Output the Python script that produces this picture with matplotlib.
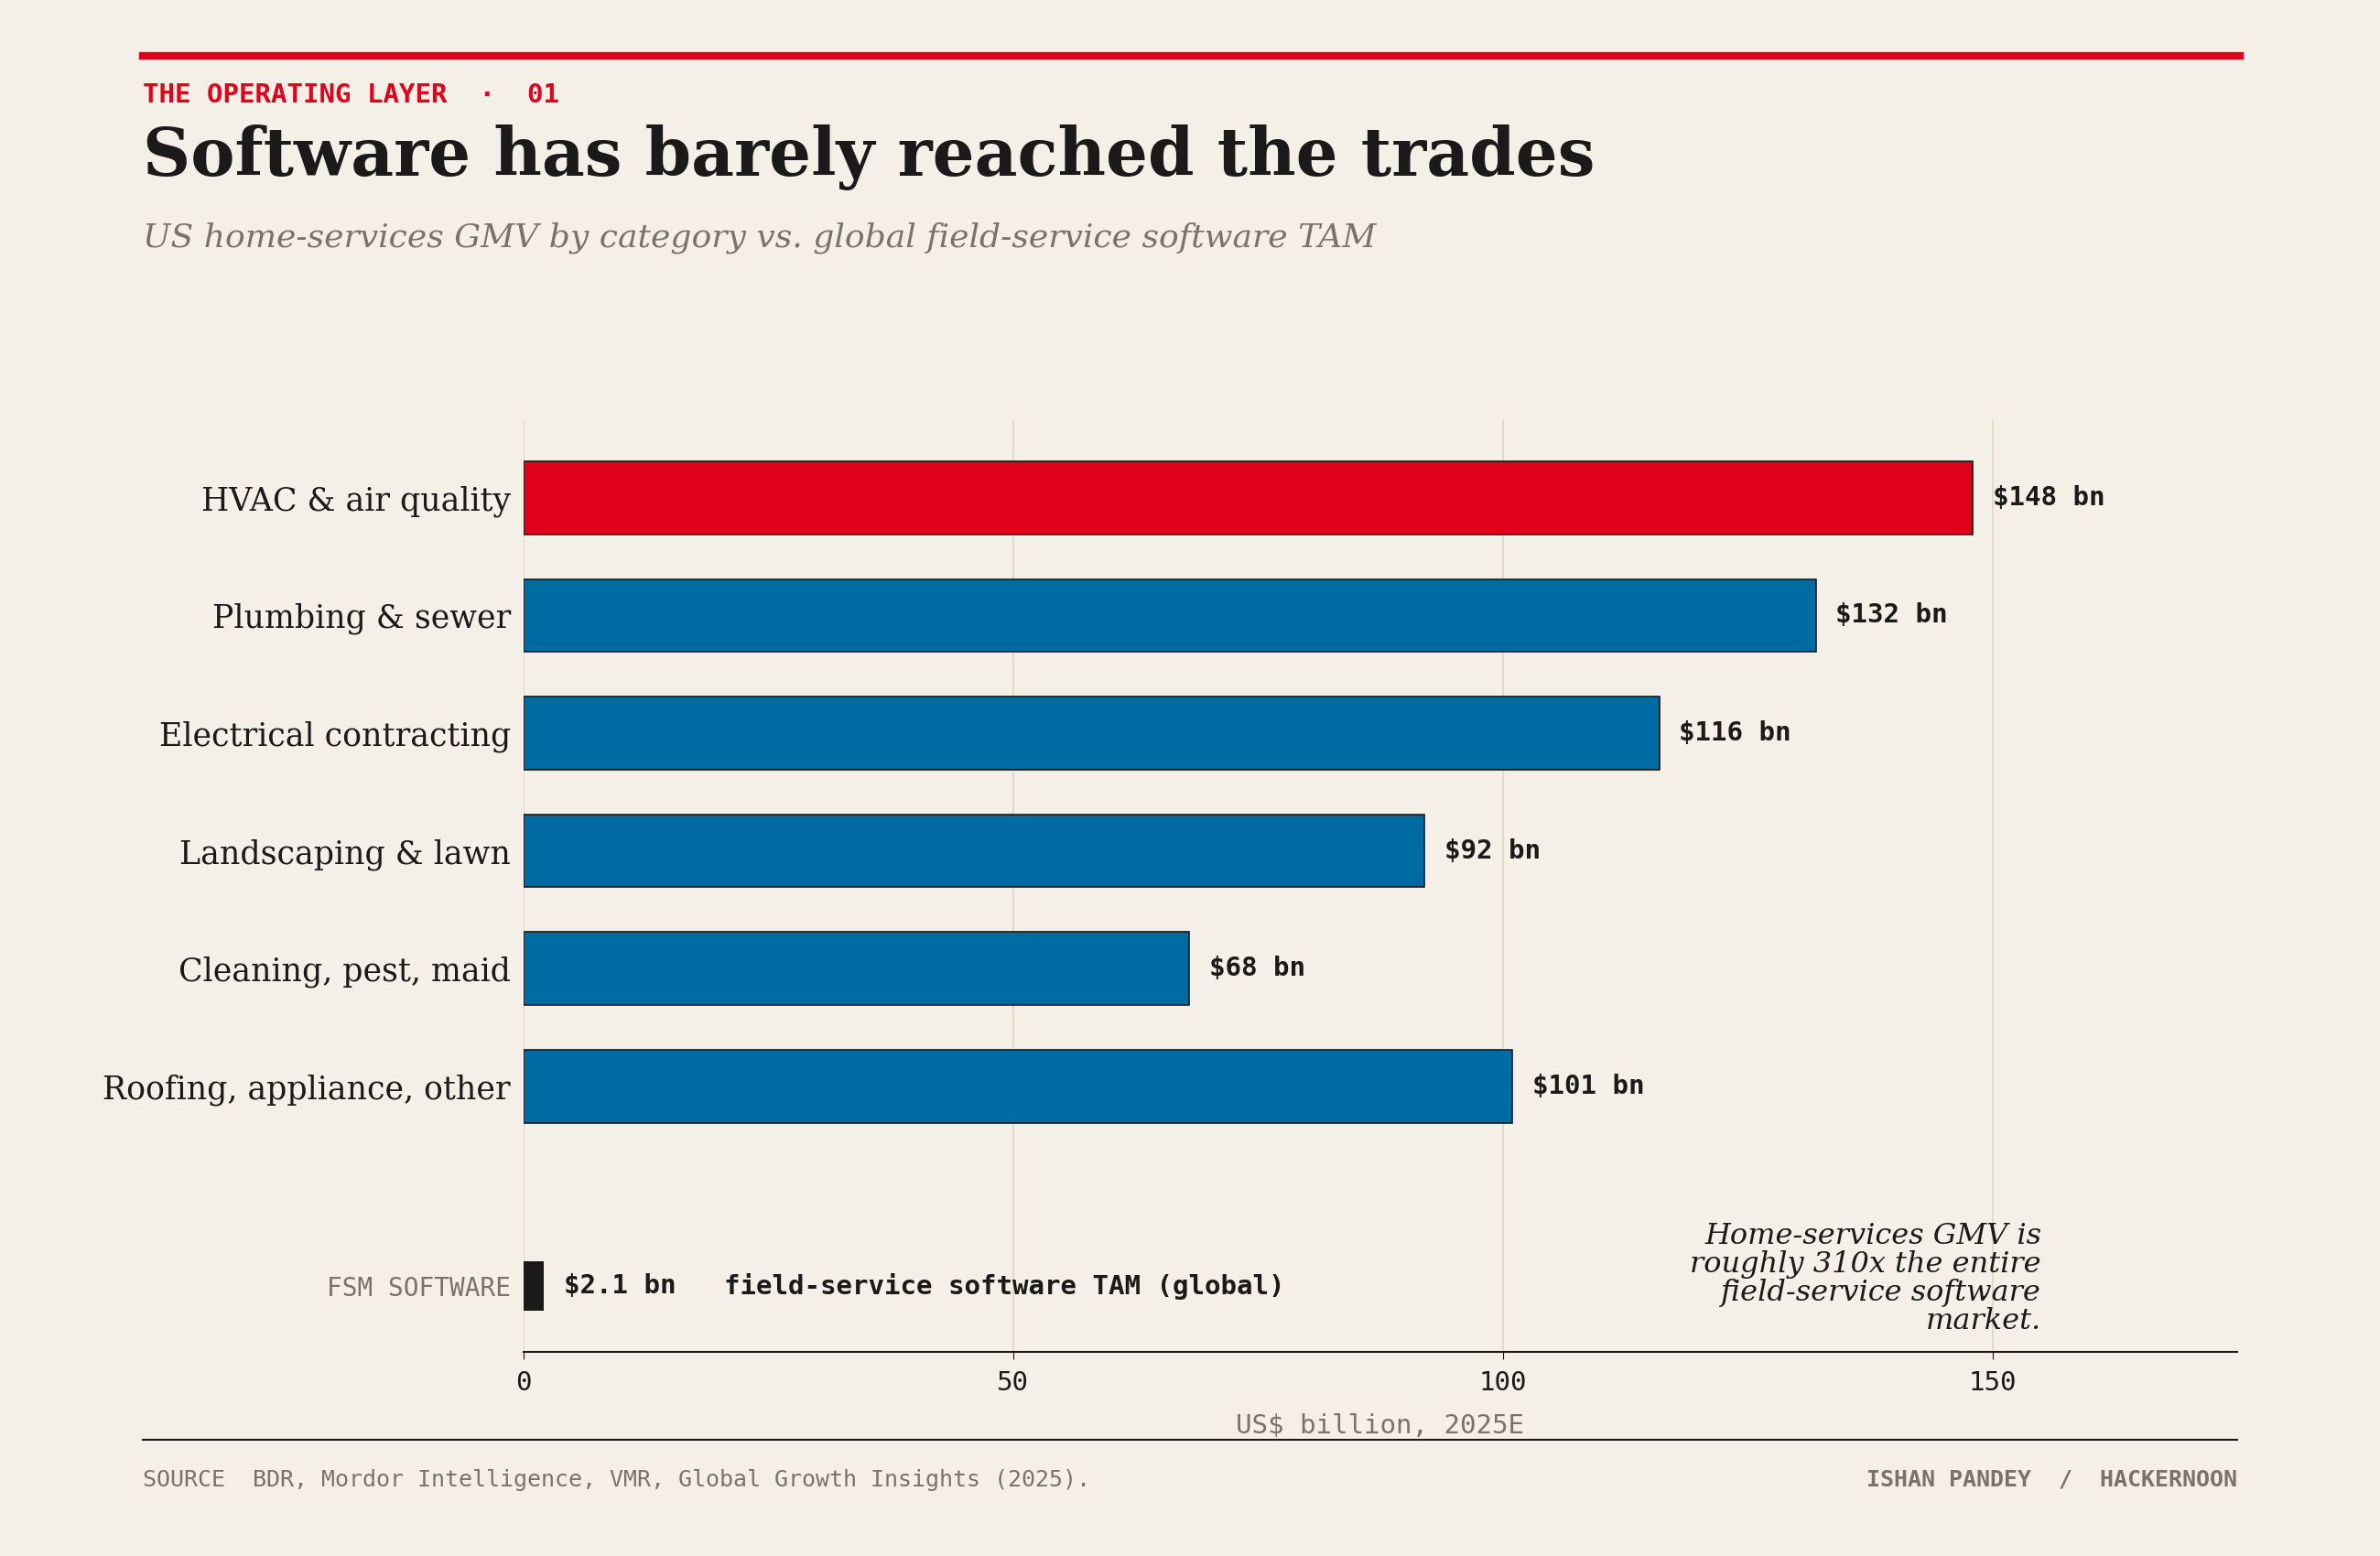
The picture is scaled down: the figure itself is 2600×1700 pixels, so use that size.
import numpy as np
import matplotlib.pyplot as plt

categories = ['HVAC & air quality', 'Plumbing & sewer', 'Electrical contracting',
              'Landscaping & lawn', 'Cleaning, pest, maid', 'Roofing, appliance, other']
values = [148, 132, 116, 92, 68, 101]
labels = ['$148 bn', '$132 bn', '$116 bn', '$92 bn', '$68 bn', '$101 bn']
fsm_value = 2.1
fsm_label = '$2.1 bn'
xticks = [0, 50, 100, 150]

bg = '#f4f0e8'
red = '#e0001b'
blue = '#006ba3'
ink = '#1a1a1a'
grey = '#7a7468'
serif = 'DejaVu Serif'
mono = 'DejaVu Sans Mono'

fig = plt.figure(figsize=(26, 17), dpi=100, facecolor=bg)
ax = fig.add_axes([0.22, 0.131, 0.72, 0.599])
ax.set_facecolor(bg)

y = np.arange(len(categories))
colors = [red] + [blue] * (len(categories) - 1)
ax.barh(y, values, height=0.62, color=colors, edgecolor=ink, linewidth=1.2, zorder=3)
for yi, v, lab in zip(y, values, labels):
    ax.text(v + 2, yi, lab, va='center', ha='left', fontsize=21, fontweight='bold',
            family=mono, color=ink, zorder=4)

fsm_y = 6.7
ax.barh(fsm_y, fsm_value, height=0.42, color=ink, zorder=3)
ax.text(fsm_value + 2, fsm_y, fsm_label, va='center', ha='left', fontsize=21,
        fontweight='bold', family=mono, color=ink)
ax.text(20.5, fsm_y, 'field-service software TAM (global)', va='center', ha='left',
        fontsize=21, fontweight='bold', family=mono, color=ink)

ax.text(155, 6.15, 'Home-services GMV is\nroughly 310x the entire\nfield-service software\nmarket.',
        ha='right', va='top', fontsize=23, style='italic', family=serif, color=ink,
        linespacing=1.0)

ax.set_xlim(0, 175)
ax.set_ylim(7.26, -0.66)
ax.set_yticks(list(y) + [fsm_y])
ax.set_yticklabels(categories + ['FSM SOFTWARE'])
for i, t in enumerate(ax.get_yticklabels()):
    if i < len(categories):
        t.set_fontsize(25); t.set_family(serif); t.set_color(ink)
    else:
        t.set_fontsize(20); t.set_family(mono); t.set_color(grey)
ax.tick_params(axis='y', length=0, pad=10)
ax.set_xticks(xticks)
ax.tick_params(axis='x', length=6, labelsize=21, colors=ink, pad=8)
for t in ax.get_xticklabels():
    t.set_family(mono)
ax.grid(axis='x', color='#e0dcc6', linewidth=1.5, zorder=0)
for s in ['top', 'right', 'left']:
    ax.spines[s].set_visible(False)
ax.spines['bottom'].set_color(ink)
ax.spines['bottom'].set_linewidth(1.5)
ax.set_xlabel('US$ billion, 2025E', fontsize=21, family=mono, color=grey, labelpad=14)

# header
fig.add_artist(plt.Line2D([0.06, 0.941], [0.964, 0.964], color=red, linewidth=6))
fig.text(0.06, 0.939, 'THE OPERATING LAYER  ·  01', fontsize=21, fontweight='bold',
         family=mono, color=red, va='center')
fig.text(0.06, 0.899, 'Software has barely reached the trades', fontsize=52,
         fontweight='bold', family=serif, color=ink, va='center')
fig.text(0.06, 0.847, 'US home-services GMV by category vs. global field-service software TAM',
         fontsize=26, style='italic', family=serif, color=grey, va='center')

# footer
fig.add_artist(plt.Line2D([0.06, 0.94], [0.075, 0.075], color=ink, linewidth=1.5))
fig.text(0.06, 0.049, 'SOURCE  BDR, Mordor Intelligence, VMR, Global Growth Insights (2025).',
         fontsize=18, family=mono, color=grey, va='center')
fig.text(0.94, 0.049, 'ISHAN PANDEY  /  HACKERNOON', fontsize=18, fontweight='bold',
         family=mono, color=grey, va='center', ha='right')

fig.savefig('out.png', dpi=100, facecolor=bg)
